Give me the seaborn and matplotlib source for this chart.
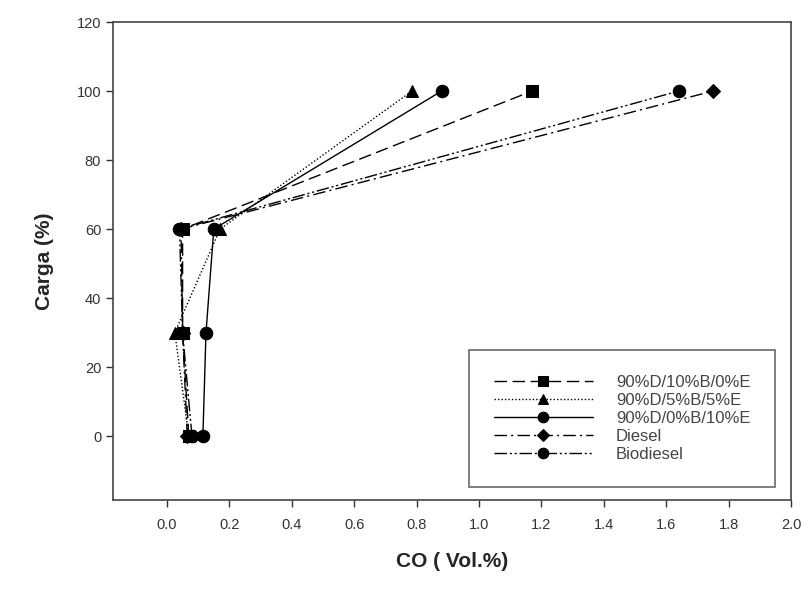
import pandas as pd
import matplotlib
matplotlib.use("Agg")
import matplotlib.pyplot as plt
import seaborn as sns

# load (%) and CO (vol.%)
carga = [0, 30, 60, 100]
co_10b = [0.07, 0.05, 0.05, 1.17]
co_5b5e = [0.07, 0.025, 0.17, 0.785]
co_10e = [0.115, 0.125, 0.15, 0.88]
co_diesel = [0.065, 0.05, 0.045, 1.75]
co_biodiesel = [0.08, 0.05, 0.04, 1.64]

labels = ['90%D/10%B/0%E', '90%D/5%B/5%E', '90%D/0%B/10%E', 'Diesel', 'Biodiesel']
series = [co_10b, co_5b5e, co_10e, co_diesel, co_biodiesel]
markers = ['s', '^', 'o', 'D', 'o']
styles = [(0, (9, 4)), (0, (1, 1.5)), '-', (0, (9, 3, 1.5, 3)), (0, (9, 2, 1.5, 2, 1.5, 2))]
msizes = [8, 8, 9, 7, 9]

rows = []
for name, vals in zip(labels, series):
    for c, v in zip(carga, vals):
        rows.append({'serie': name, 'CO': v, 'Carga': c})
df = pd.DataFrame(rows)

sns.set_style("ticks")
plt.rcParams['font.family'] = ['Liberation Sans', 'DejaVu Sans']

fig = plt.figure(figsize=(8.09, 5.92), dpi=100)
ax = fig.add_axes([0.1397, 0.1554, 0.8381, 0.8074])

for name, m, ls, ms in zip(labels, markers, styles, msizes):
    sub = df[df['serie'] == name]
    sns.lineplot(data=sub, x='CO', y='Carga', sort=False, estimator=None,
                 color='black', marker=m, markersize=ms, markeredgecolor='black',
                 linestyle=ls, linewidth=1.0, label=name, ax=ax)

ax.set_xlim(-0.173, 2.0)
ax.set_ylim(-18.5, 120)
ax.set_xticks([0.0, 0.2, 0.4, 0.6, 0.8, 1.0, 1.2, 1.4, 1.6, 1.8, 2.0])
ax.set_yticks([0, 20, 40, 60, 80, 100, 120])
ax.set_xticklabels(['%.1f' % t for t in ax.get_xticks()])
ax.tick_params(axis='both', labelsize=10.5, colors='#333333', length=5, width=1)
ax.tick_params(axis='x', pad=8)
for sp in ax.spines.values():
    sp.set_visible(True)
    sp.set_color('#444444')
    sp.set_linewidth(1.2)

ax.set_xlabel('CO ( Vol.%)', fontsize=15, fontweight='bold', labelpad=14)
ax.set_ylabel('Carga (%)', fontsize=15, fontweight='bold', labelpad=16)

leg = ax.legend(loc='lower right', bbox_to_anchor=(0.977, 0.027), borderaxespad=0,
                fontsize=12, frameon=True, fancybox=False, edgecolor='#444444',
                handlelength=5.9, handletextpad=1.4, borderpad=1.5,
                labelspacing=0.18, markerscale=0.85)
leg.get_frame().set_linewidth(1.2)
for t in leg.get_texts():
    t.set_color('#444444')

fig.savefig('out.png', dpi=100)
